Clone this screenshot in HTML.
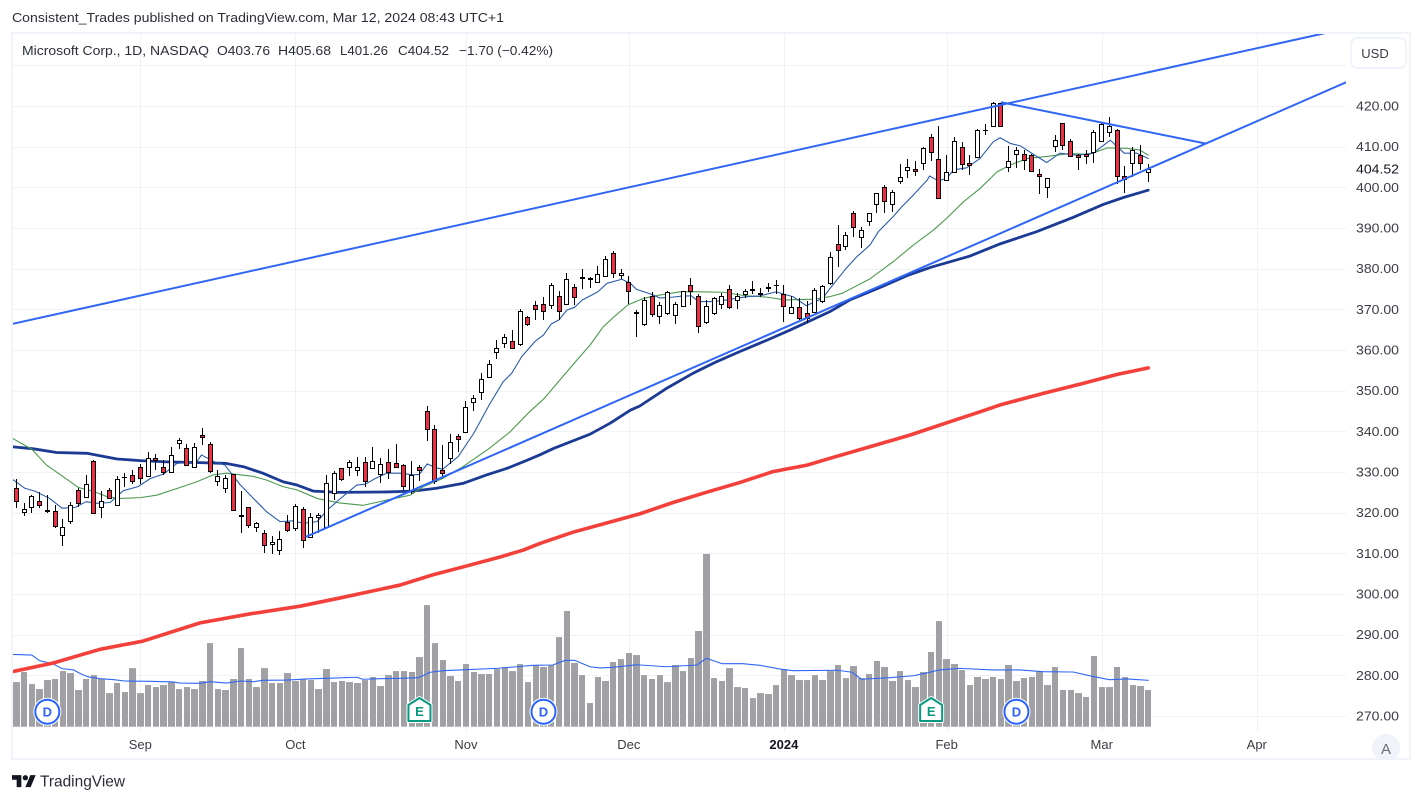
<!DOCTYPE html>
<html lang="en">
<head>
<meta charset="utf-8">
<title>Microsoft Corp. daily chart</title>
<style>
html,body{margin:0;padding:0;background:#fff;width:1422px;height:802px;overflow:hidden}
svg{display:block;font-family:"Liberation Sans",sans-serif}
</style>
</head>
<body>
<svg id="chart" width="1422" height="802" viewBox="0 0 1422 802" xmlns="http://www.w3.org/2000/svg">
  <rect x="0" y="0" width="1422" height="802" fill="#ffffff"/>
  <text x="12" y="22" font-size="13" fill="#2a2e39" textLength="492" lengthAdjust="spacingAndGlyphs">Consistent_Trades published on TradingView.com, Mar 12, 2024 08:43 UTC+1</text>
  <defs>
    <clipPath id="plot-clip"><rect x="13" y="34" width="1333" height="699"/></clipPath>
    <clipPath id="auto-clip"><rect x="1360" y="725" width="49" height="33"/></clipPath>
  </defs>
  <g id="grid"></g>
  <g id="plot" clip-path="url(#plot-clip)"></g>
  <g id="markers"></g>
  <g id="price-axis"></g>
  <g id="time-axis"></g>
  <g>
    <circle cx="1386" cy="748" r="14" fill="#f0f3fa" clip-path="url(#auto-clip)"/>
    <text x="1386" y="754" font-size="15" fill="#6a6d78" text-anchor="middle">A</text>
  </g>
  <rect x="12" y="33" width="1398" height="726" fill="none" stroke="#f0f3fa" stroke-width="2"/>
  <g font-size="13" fill="#2a2e39">
    <text x="22" y="55" textLength="187" lengthAdjust="spacingAndGlyphs">Microsoft Corp., 1D, NASDAQ</text>
    <text x="217" y="55" textLength="53" lengthAdjust="spacingAndGlyphs">O403.76</text>
    <text x="278" y="55" textLength="53" lengthAdjust="spacingAndGlyphs">H405.68</text>
    <text x="340" y="55" textLength="48" lengthAdjust="spacingAndGlyphs">L401.26</text>
    <text x="398" y="55" textLength="51" lengthAdjust="spacingAndGlyphs">C404.52</text>
    <text x="459" y="55" textLength="94" lengthAdjust="spacingAndGlyphs">−1.70 (−0.42%)</text>
  </g>
  <g>
    <rect x="1351" y="38" width="55" height="30" rx="6" fill="#ffffff" stroke="#f0f3fa" stroke-width="2"/>
    <text x="1375" y="58" font-size="13" fill="#3a3d45" text-anchor="middle">USD</text>
  </g>
  <g>
    <g transform="translate(12,772.4) scale(0.667)" fill="#131722">
      <path d="M14 22H7V11H0V4h14v18zM28 22h-8l7.5-18h8L28 22z"/>
      <circle cx="20" cy="8" r="4"/>
    </g>
    <text x="40" y="786.5" font-size="16" fill="#2a2e39" textLength="85" lengthAdjust="spacingAndGlyphs">TradingView</text>
  </g>
</svg>
<script>
const opens = [326.0,320.1,321.3,322.8,320.6,320.3,314.4,317.9,325.5,323.8,332.6,321.3,325.5,321.8,328.8,329.2,331.2,328.9,333.4,331.2,329.9,337.1,335.8,331.2,339.0,336.8,327.7,326.0,329.4,319.4,321.3,316.4,314.9,312.2,310.8,317.6,316.2,320.8,313.9,318.9,316.4,324.8,
330.9,331.2,330.4,332.4,330.9,329.5,332.4,332.2,331.7,325.3,331.2,345.0,340.5,330.4,333.4,338.8,339.8,347.2,
349.6,353.3,359.4,361.6,362.1,361.4,368.0,371.0,371.2,371.0,373.4,371.2,375.6,377.9,377.6,376.6,378.3,383.8,378.4,376.6,369.3,366.3,373.4,368.3,369.0,368.5,370.7,375.9,373.2,366.8,369.2,371.4,374.9,372.4,373.7,374.9,373.9,375.3,375.9,
373.8,369.0,370.5,369.0,369.3,372.0,376.4,386.0,385.5,393.6,387.9,391.6,395.8,400.0,395.8,401.5,404.2,404.4,406.1,412.3,406.9,401.7,403.7,409.8,405.9,407.4,414.0,415.2,420.7,404.9,408.1,408.1,407.9,403.2,400.2,410.1,415.7,411.3,407.9,408.1,408.6,411.3,413.5,414.0,402.9,406.1,407.9,403.76];
const highs = [328.2,322.3,324.4,325.0,324.4,321.9,318.5,322.6,326.0,329.2,332.9,325.3,326.0,328.9,329.7,330.5,331.9,334.8,334.4,332.9,336.1,338.3,336.8,337.1,340.8,337.3,330.5,329.2,329.5,325.3,321.3,317.6,315.7,314.2,315.5,319.4,322.1,321.3,319.8,319.8,329.2,330.2,
331.1,333.0,333.7,333.7,336.2,333.4,335.6,336.8,331.9,332.7,331.7,346.3,341.5,336.6,339.3,339.3,347.4,348.9,
354.3,357.5,362.4,363.9,364.9,370.0,368.3,372.0,373.0,376.4,374.4,378.9,376.2,379.8,377.9,380.6,383.0,384.3,380.0,378.1,369.8,373.0,374.2,371.7,374.4,371.7,374.4,377.6,373.7,372.2,373.0,373.9,375.9,373.9,375.1,376.9,375.2,376.4,377.1,
376.0,373.2,372.9,372.0,375.2,376.1,384.0,390.7,388.9,394.1,390.2,393.8,398.5,400.5,399.3,405.7,406.9,406.4,409.8,413.0,415.2,407.9,412.5,411.1,407.9,414.3,415.5,420.9,420.7,410.1,409.8,409.1,408.1,404.4,402.2,412.8,415.7,412.0,408.1,409.3,414.0,415.7,417.2,414.3,405.2,409.8,410.3,405.68];
const lows = [321.2,319.3,320.0,321.1,319.8,316.2,311.7,317.1,321.5,323.5,319.8,318.8,323.3,321.7,326.4,327.0,327.0,328.7,330.4,329.2,329.7,335.6,331.7,331.2,336.7,329.7,326.5,324.8,320.6,315.1,316.2,315.2,310.2,309.8,309.5,315.2,315.4,311.2,313.9,314.9,316.4,323.1,
327.7,329.1,329.1,326.4,330.7,327.4,328.4,330.9,325.5,324.5,327.7,337.7,327.0,328.5,331.9,334.8,339.5,344.9,
347.8,353.3,357.8,360.6,360.4,361.1,366.0,367.4,367.3,370.2,367.3,371.2,371.1,375.0,375.2,376.4,378.3,377.6,377.4,371.4,363.1,365.8,368.2,366.4,368.5,366.3,370.7,371.0,364.3,366.5,368.7,370.0,370.2,370.2,372.7,373.7,373.0,374.2,373.7,
367.0,368.8,367.5,366.6,369.3,371.5,376.1,380.5,384.7,387.7,385.0,390.4,393.6,393.8,394.0,400.7,402.2,402.7,404.3,406.5,397.3,401.7,403.7,404.2,403.1,407.4,412.8,415.2,415.0,403.7,404.7,404.2,403.7,398.3,397.5,408.6,409.1,407.6,404.2,405.7,406.1,411.1,412.5,400.7,398.5,402.5,404.2,401.26];
const closes = [322.8,320.8,324.0,321.8,320.3,316.7,316.4,321.8,322.3,327.0,319.8,322.8,323.5,328.2,328.7,327.7,328.5,333.4,332.9,329.9,334.1,337.8,331.7,336.1,338.5,330.2,328.9,328.5,320.6,319.1,316.9,317.4,312.0,312.7,313.5,315.7,321.6,313.2,318.9,319.4,327.2,329.7,
328.2,332.5,331.2,327.7,332.7,331.9,330.0,331.2,326.5,329.2,330.4,340.5,327.7,329.7,337.3,338.1,345.9,348.2,
352.8,356.5,360.4,363.1,360.6,369.5,366.5,370.2,369.5,376.1,369.7,377.4,373.0,377.8,377.5,378.6,382.5,378.9,378.9,374.4,369.2,372.4,368.8,371.0,374.2,371.2,374.4,374.4,365.8,370.7,372.7,373.2,370.5,373.4,374.4,374.7,373.7,375.4,376.0,
370.7,370.5,367.8,367.8,374.7,375.7,382.8,384.5,388.4,390.2,389.4,393.8,398.5,396.6,398.8,402.5,404.9,403.9,409.6,408.7,397.5,403.7,411.3,405.7,405.4,414.0,414.1,420.7,415.2,406.4,409.3,406.6,403.9,402.7,402.2,411.6,410.3,407.6,407.4,407.6,413.5,415.5,415.0,402.7,402.0,409.1,406.1,404.52];
const volumes = [33.2,40.7,31.7,28.0,34.7,35.5,41.4,39.9,27.3,35.5,38.4,35.5,25.0,32.5,25.8,43.6,25.0,31.0,29.5,31.0,33.2,28.0,29.5,28.0,34.0,62.2,28.0,27.3,35.5,58.5,35.5,29.5,43.6,32.5,32.5,39.9,34.0,35.5,34.7,28.0,42.9,33.2,34.0,33.2,32.5,34.7,37.0,30.3,38.4,41.4,
41.4,40.7,51.8,90.5,62.2,49.6,37.7,34.0,46.6,40.7,39.2,39.2,42.9,44.4,41.4,46.6,33.2,45.9,44.4,45.9,66.7,86.1,47.4,38.4,17.6,37.0,34.0,48.1,50.3,54.8,53.3,38.4,35.5,38.4,33.2,45.9,41.4,51.1,71.2,128.5,36.2,34.0,43.6,29.5,28.8,21.3,25.0,24.3,31.0,42.7,38.4,34.7,
34.7,38.4,34.7,41.4,45.9,36.2,45.1,36.2,39.2,48.9,44.4,34.0,41.4,34.7,29.5,40.7,55.6,78.6,50.3,46.6,42.2,31.0,37.0,35.5,37.0,35.5,45.9,34.0,36.2,37.0,41.4,31.0,44.4,27.3,27.3,25.0,22.1,52.6,29.5,29.5,44.4,37.0,31.0,30.3,27.3];

const ema10Bars = [-0.5,1.1,2.4,4.3,5.9,7.6,9,10.4,12.1,13.8,15.7,17.3,19,20.7,23.3,23.9,25.4,26.9,28.9,31,32.3,34,35.7,37,38.8,40.2,41.7,43.9,45,46.3,47.8,49.5,51.2,52,53,54,55,57,59,61,62.8,63.9,65.2,66.9,68,69,70,71,72,73,75,76.2,78.1,79.2,80,81,82.2,83,84.7,86,87.1,88,89.9,91.6,94.2,95.9,98,100.2,101.9,104,104.9,107,108.4,110.1,111.2,113.1,114.2,115.7,117.5,117.8,118.9,120,120.9,122.6,124.3,126,126.9,128.2,129.5,131.2,132.9,134.6,136.8,138.9,141.1,142.9,144.5,146];
const ema10Values = [328.2,326,325.3,323.5,321.1,321.3,322.7,322.3,322.5,325.4,326.4,328.4,329.5,332.1,332.6,334.2,332.6,331.7,326.8,322.7,320.2,317.8,318,317.4,317.8,320.8,323.3,326.8,327,328.4,329.7,329.7,329.3,329.4,332,331.1,330.7,333.8,339.5,346.5,352.2,354.3,358.4,362.1,363.7,366.4,367.4,369.8,370.5,372.3,374.3,376.4,377.4,376.4,374.9,374.3,373.5,372.8,373,373.3,373.3,371.9,371.9,372.3,373.1,373.3,374.3,373.1,370.9,372.7,375,380,382.9,385.8,389.1,392.8,395.2,398.1,401.8,402.8,401.6,402.2,404.3,404.8,407.1,411.2,412.2,410.8,410.2,408.1,406.1,408.4,407.9,408.4,411.6,408.4,408.4,407.1];
const ema20Bars = [-0.5,2,3.9,6,8,10,11.9,13.4,16,18.1,21.1,23.3,25.4,27.1,30.6,32.3,34.4,36.2,38.8,41.7,44.7,47.8,50.8,52.5,55,57.6,61,63.7,66.2,68,70.1,72.3,74,75.7,77,78.9,80.9,83,85.6,88.2,91.2,93.8,96.8,99.2,102.9,104.9,106.6,110.1,113.1,115.7,118.3,120,122.2,124.3,126.5,128.2,130.4,132.9,135.9,138.4,140.7,143.2,144.9,146];
const ema20Values = [338.3,335.6,331.7,328.9,326.2,325.2,323.8,323.5,323.7,324.3,326.2,327.6,329.3,329.7,328.9,328,326.4,325.6,323.5,322.4,321.8,323.1,324.3,326.4,328.4,331.3,335.8,339.9,344.8,347.9,352.6,357.5,361.2,365.7,368,371.1,372.7,373.5,374.3,374.3,374.2,373.4,373,372.3,372.5,373.1,374,377.5,381.7,385.8,389.5,392.4,396.5,399.7,403.8,405.5,407.1,407.6,408.3,408.1,409.7,409.6,409.2,407.9];
const sma50Bars = [-0.5,2.2,5.2,9.1,13,16,19.4,23.7,27.1,29.3,31.8,34.4,36.2,38.3,41.7,47.8,51.2,54.2,57.6,60.7,63.3,65.9,67.5,69.3,74,76.6,79.2,80.4,83.9,87.3,90.3,93.3,96.8,99.8,104.9,107.5,111.8,114.9,117.9,123,126.9,131.6,136.3,140.2,142.8,146];
const sma50Values = [336.2,335.7,334.8,334.6,333.2,332.8,332.5,332.3,332.1,331.3,329.7,327.6,326.8,325.3,325,325.1,325.3,326,327.2,329.3,330.9,332.9,334.2,335.8,339.3,342,345.2,346.2,350.6,354.3,357.1,359.6,362.4,364.9,369.4,372.3,375.7,378.3,380.3,383.1,386.1,389.1,392.6,395.8,397.5,399.3];
const sma200Bars = [-0.55,4.7,10.8,16.3,23.7,30.1,36.6,41.7,49.5,53.7,58.1,62.4,65.4,67.5,71.8,76.2,80.4,84.7,89,93.3,97.6,102,105,110.1,115.3,120,124.3,126.9,132.4,137.6,142,146];
const sma200Values = [280.9,283,286.4,288.4,292.9,295.1,297,299,302.2,304.7,306.9,309.1,310.8,312.4,315.2,317.5,319.7,322.5,325,327.4,330.1,331.7,333.4,336.2,339.1,342.1,344.8,346.5,349.3,351.8,354,355.6];
const volumeMaBars = [-0.5,2,3,4.8,5.9,7.4,8.2,9.2,10.8,12.6,14,17.2,20.2,21.1,23.7,25,27.1,28.9,30.6,31.8,34.9,37.5,40.9,43.9,44.7,46.9,49.5,51.9,53.4,55,58,62,64.5,66.6,69.2,70.8,72,74,75.3,77,80,83.9,87.8,89,91,93.7,95.9,98.5,100.2,105.9,107.8,109,112.7,115.7,117.6,119,121.7,126,129.5,132.4,136.3,139,141,143.3,146];
const volumeMaValues = [53.8,53.3,49.1,46.6,43.2,42.2,39.7,37.2,35.7,35,34,33.8,33.3,32.5,32.3,33.5,32.5,34,33.5,34.5,34.7,35.5,36.2,36.8,35.3,35.7,36,36.5,40.5,41.7,42.4,43.4,44.6,45.7,45.9,49.4,49.4,44.6,43.7,44.2,46.1,44.6,45.9,50.9,46.9,46.9,45.7,42.9,41.7,42,40.5,35.3,36.5,37.9,40.2,42.2,43.4,42.2,42.2,40.9,40.7,37.2,35,35.5,34.5];

const channelUpperBars = [-0.55,169.0];
const channelUpperPrices = [366.4,438.0];
const channelLowerBars = [37.4,171.6];
const channelLowerPrices = [314.1,425.9];
const wedgeBars = [127.1,153.3];
const wedgePrices = [420.9,410.8];

const priceTicks = [430,420,410,400,390,380,370,360,350,340,330,320,310,300,290,280,270];
const priceTickLabels = ["","420.00","410.00","400.00","390.00","380.00","370.00","360.00","350.00","340.00","330.00","320.00","310.00","300.00","290.00","280.00","270.00"];
const timeTickBars = [16,36,58,79,99,120,140,160];
const timeTickLabels = ["Sep","Oct","Nov","Dec","2024","Feb","Mar","Apr"];
const dividendBars = [4,68,129];
const earningsBars = [52,118];

const SVGNS = 'http://www.w3.org/2000/svg';
const xScale = b => 16.3 + b * 7.753;
const yScale = p => 106 + (420 - p) * 4.0667;
const vScale = v => v / 0.744;
const VOL_BASE = 726.7;

const gridG = document.getElementById('grid');
const plotG = document.getElementById('plot');
const markersG = document.getElementById('markers');
const priceG = document.getElementById('price-axis');
const timeG = document.getElementById('time-axis');

function make(tag, parent) {
  const el = document.createElementNS(SVGNS, tag);
  parent.appendChild(el);
  return el;
}
function linePath(bars, values) {
  return bars.map((b, i) => (i ? 'L' : 'M') + xScale(b).toFixed(2) + ' ' + yScale(values[i]).toFixed(2)).join(' ');
}
function volumePath(bars, values) {
  return bars.map((b, i) => (i ? 'L' : 'M') + xScale(b).toFixed(2) + ' ' + (VOL_BASE - vScale(values[i])).toFixed(2)).join(' ');
}
function styleLine(el, d, color, width) {
  el.setAttribute('d', d);
  el.setAttribute('fill', 'none');
  el.setAttribute('stroke', color);
  el.setAttribute('stroke-width', width);
  el.setAttribute('stroke-linejoin', 'round');
  el.setAttribute('stroke-linecap', 'round');
}

priceTicks.forEach((p, i) => {
  const y = Math.round(yScale(p));
  const line = make('rect', gridG);
  
  
  line.setAttribute('x', 13);
  line.setAttribute('y', y);
  line.setAttribute('width', 1333);
  line.setAttribute('height', 1);
  line.setAttribute('fill', '#f1f2f5');
  if (!priceTickLabels[i]) return;
  const t = make('text', priceG);
  
  
  t.setAttribute('x', 1356);
  t.setAttribute('y', yScale(p) + 4.5);
  t.setAttribute('font-size', 13);
  t.setAttribute('fill', '#3a3d45');
  t.setAttribute('textLength', 43);
  t.setAttribute('lengthAdjust', 'spacingAndGlyphs');
  t.textContent = priceTickLabels[i];
});

const lastLabel = make('text', priceG);


lastLabel.setAttribute('x', 1356);
lastLabel.setAttribute('y', yScale(closes[closes.length - 1]) + 4.5);
lastLabel.setAttribute('font-size', 13);
lastLabel.setAttribute('fill', '#131722');
lastLabel.setAttribute('textLength', 43);
lastLabel.setAttribute('lengthAdjust', 'spacingAndGlyphs');
lastLabel.textContent = closes[closes.length - 1].toFixed(2);

timeTickBars.forEach((b, i) => {
  const x = Math.round(xScale(b));
  const line = make('rect', gridG);
  
  
  line.setAttribute('x', x);
  line.setAttribute('y', 34);
  line.setAttribute('width', 1);
  line.setAttribute('height', 699);
  line.setAttribute('fill', '#f1f2f5');
  const t = make('text', timeG);
  
  
  t.setAttribute('x', xScale(b));
  t.setAttribute('y', 749);
  t.setAttribute('font-size', 13);
  t.setAttribute('text-anchor', 'middle');
  t.setAttribute('fill', '#3a3d45');
  if (timeTickLabels[i] === '2024') t.setAttribute('font-weight', 'bold');
  if (timeTickLabels[i] === '2024') t.setAttribute('fill', '#131722');
  t.textContent = timeTickLabels[i];
});

volumes.forEach((v, i) => {
  const cx = xScale(i);
  const left = Math.round(cx - 3.2);
  const right = Math.round(cx + 3.2);
  const bar = make('rect', plotG);
  
  
  bar.setAttribute('x', left);
  bar.setAttribute('y', VOL_BASE - vScale(v));
  bar.setAttribute('width', right - left);
  bar.setAttribute('height', vScale(v));
  bar.setAttribute('fill', '#a0a0a5');
});

const volMaLine = make('path', plotG);


styleLine(volMaLine, volumePath(volumeMaBars, volumeMaValues), '#2f66f5', 1.1);

const sma200Line = make('path', plotG);


styleLine(sma200Line, linePath(sma200Bars, sma200Values), '#f4403a', 3.6);

const sma50Line = make('path', plotG);


styleLine(sma50Line, linePath(sma50Bars, sma50Values), '#1a3a94', 2.8);

const ema20Line = make('path', plotG);


styleLine(ema20Line, linePath(ema20Bars, ema20Values), '#4c9a50', 1.1);

const ema10Line = make('path', plotG);


styleLine(ema10Line, linePath(ema10Bars, ema10Values), '#2a5caa', 1.1);

opens.forEach((o, i) => {
  const c = closes[i];
  const cx = Math.round(xScale(i) - 0.5);
  const top = Math.round(yScale(Math.max(o, c)));
  const bottom = Math.round(yScale(Math.min(o, c)));
  const bodyH = Math.max(1, bottom - top + 1);

  const wick = make('rect', plotG);
  
  
  wick.setAttribute('x', cx);
  wick.setAttribute('y', Math.round(yScale(highs[i])));
  wick.setAttribute('width', 1);
  wick.setAttribute('height', Math.max(1, Math.round(yScale(lows[i])) - Math.round(yScale(highs[i]))));
  wick.setAttribute('fill', '#000000');

  const body = make('rect', plotG);
  
  
  body.setAttribute('x', cx - 2);
  body.setAttribute('y', top);
  body.setAttribute('width', 5);
  body.setAttribute('height', bodyH);
  body.setAttribute('fill', '#000000');

  if (bodyH > 2) {
    const fill = make('rect', plotG);
    
    
    fill.setAttribute('x', cx - 1);
    fill.setAttribute('y', top + 1);
    fill.setAttribute('width', 3);
    fill.setAttribute('height', bodyH - 2);
    fill.setAttribute('fill', c < o ? '#ee2e44' : '#ffffff');
  }
});

const channelUpper = make('path', plotG);


styleLine(channelUpper, linePath(channelUpperBars, channelUpperPrices), '#2f66f5', 2);

const channelLower = make('path', plotG);


styleLine(channelLower, linePath(channelLowerBars, channelLowerPrices), '#2f66f5', 2);

const wedgeLine = make('path', plotG);


styleLine(wedgeLine, linePath(wedgeBars, wedgePrices), '#2f66f5', 2);

dividendBars.forEach(b => {
  const cx = xScale(b);
  const g = make('g', markersG);
  
  
  const halo = make('circle', g);
  
  
  halo.setAttribute('cx', cx);
  halo.setAttribute('cy', 711.7);
  halo.setAttribute('r', 14);
  halo.setAttribute('fill', '#ffffff');
  const ring = make('circle', g);
  
  
  ring.setAttribute('cx', cx);
  ring.setAttribute('cy', 711.7);
  ring.setAttribute('r', 12);
  ring.setAttribute('fill', '#ffffff');
  ring.setAttribute('stroke', '#2962ff');
  ring.setAttribute('stroke-width', 2);
  const t = make('text', g);
  
  
  t.setAttribute('x', cx);
  t.setAttribute('y', 716.5);
  t.setAttribute('font-size', 13);
  t.setAttribute('font-weight', 'bold');
  t.setAttribute('text-anchor', 'middle');
  t.setAttribute('fill', '#2962ff');
  t.textContent = 'D';
});

earningsBars.forEach(b => {
  const cx = xScale(b);
  const g = make('g', markersG);
  
  
  const shape = 'M' + (cx - 11) + ' 705 L' + cx + ' 698 L' + (cx + 11) + ' 705 L' + (cx + 11) + ' 721 L' + (cx - 11) + ' 721 Z';
  const halo = make('path', g);
  
  
  halo.setAttribute('d', shape);
  halo.setAttribute('fill', '#ffffff');
  halo.setAttribute('stroke', '#ffffff');
  halo.setAttribute('stroke-width', 4);
  halo.setAttribute('stroke-linejoin', 'round');
  const house = make('path', g);
  
  
  house.setAttribute('d', shape);
  house.setAttribute('fill', '#ffffff');
  house.setAttribute('stroke', '#089981');
  house.setAttribute('stroke-width', 2);
  house.setAttribute('stroke-linejoin', 'round');
  const t = make('text', g);
  
  
  t.setAttribute('x', cx);
  t.setAttribute('y', 716);
  t.setAttribute('font-size', 13);
  t.setAttribute('font-weight', 'bold');
  t.setAttribute('text-anchor', 'middle');
  t.setAttribute('fill', '#089981');
  t.textContent = 'E';
});
</script>
</body>
</html>
